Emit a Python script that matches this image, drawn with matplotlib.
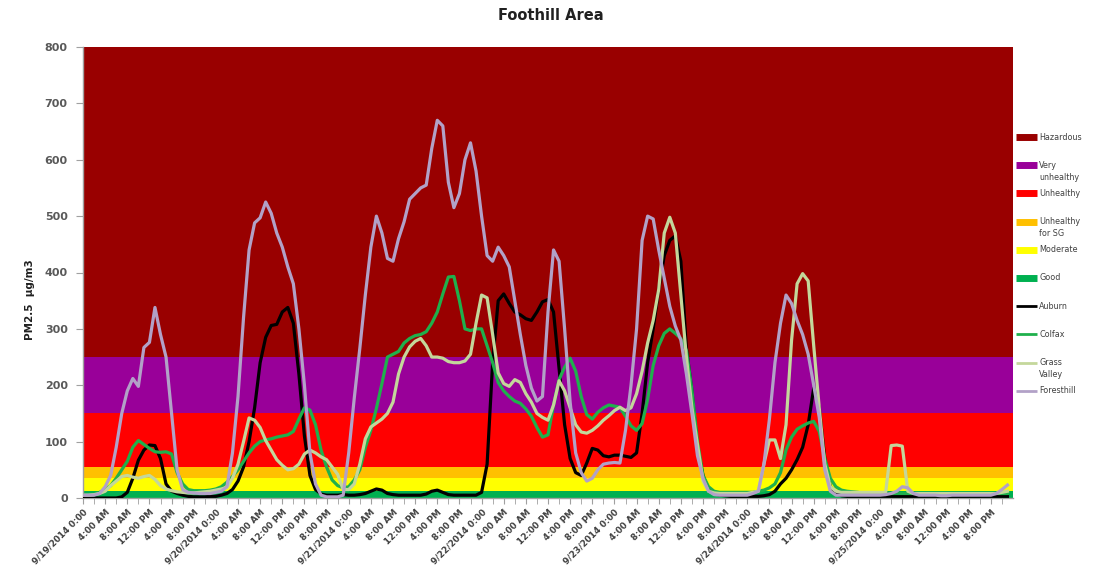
import matplotlib
matplotlib.use("Agg")
import matplotlib.pyplot as plt
from matplotlib.lines import Line2D
import numpy as np

# ---------------- data (hourly, 9/19/2014 0:00 .. 9/25/2014 23:00) ----------------
auburn = [0,0,0,0,0,0,0,2,10,35, 67,85,94,93,70,25,12,8,5,3,
          2,2,2,3,3,5,8,15,30,55, 100,160,240,285,306,308,330,338,310,220,
          110,40,15,7,5,5,5,6,5,5, 6,8,12,16,14,8,6,5,5,5,
          5,5,7,12,14,10,6,5,5,5, 5,5,10,60,240,350,362,345,330,325,
          318,315,330,348,352,330,230,130,70,45, 40,62,88,85,75,73,76,76,74,72,
          80,150,240,300,370,430,457,465,420,265, 190,90,40,15,8,5,4,3,3,3,
          3,3,3,4,6,12,25,35,50,68, 90,130,195,160,70,20,8,4,3,3,
          3,3,3,3,3,3,3,3,3,3, 3,3,3,3,3,3,3,3,3,3,
          3,3,3,3,3,3,3,3]
colfax = [5,5,6,10,15,22,35,50,65,90, 102,95,88,82,81,82,78,45,25,15,
          13,13,13,14,16,20,28,38,50,65, 80,92,100,103,105,108,110,112,118,140,
          160,156,130,85,55,32,22,18,20,32, 50,90,120,159,203,250,255,260,275,283,
          288,290,295,310,330,362,392,393,350,300, 297,300,300,270,240,205,190,180,172,168,
          158,145,125,108,112,165,210,232,248,225, 180,148,140,152,160,165,163,161,145,128,
          120,132,175,235,270,292,300,292,283,262, 191,100,40,20,12,10,10,10,10,10,
          10,10,12,14,18,25,45,85,108,122, 128,133,136,118,70,35,20,14,12,11,
          10,8,8,8,8,8,8,8,8,8, 8,8,8,8,8,8,8,8,8,8,
          8,8,8,8,8,8,8,8]
grass_valley = [5,5,6,8,12,22,30,38,40,37, 35,38,40,33,22,16,13,11,10,9,
          9,10,11,12,14,16,19,35,60,100, 142,138,125,102,85,68,58,50,52,60,
          78,85,80,73,68,55,42,15,15,25, 60,105,126,133,140,150,170,220,250,268,
          278,283,270,250,250,248,242,240,240,243, 255,310,360,355,290,222,203,198,210,205,
          185,170,150,143,138,165,208,190,160,130, 117,115,120,128,138,146,155,161,155,160,
          185,225,275,315,370,470,498,470,360,250, 160,95,30,12,9,8,8,8,8,8,
          8,10,12,60,103,103,70,130,280,380, 398,385,270,160,60,20,12,10,10,10,
          10,10,10,10,10,10,93,94,92,12, 8,8,8,8,8,8,8,8,8,8,
          8,8,8,8,8,8,10,12]
foresthill = [5,5,5,8,20,40,90,150,190,212, 198,267,276,338,290,250,150,50,15,10,
          9,8,8,8,10,12,20,80,180,320, 440,488,497,525,505,470,445,410,380,300,
          200,80,25,5,2,2,2,5,80,177, 265,360,445,500,470,425,420,460,490,530,
          540,550,555,620,670,660,560,515,540,600, 630,580,500,430,420,445,430,410,350,290,
          235,195,172,180,330,440,420,300,170,80, 45,30,35,50,60,62,63,62,120,200,
          300,457,500,495,440,390,340,305,280,220, 150,75,35,12,6,5,5,5,5,5,
          5,8,12,60,140,240,310,360,345,315, 290,255,200,143,50,12,5,5,5,5,
          5,5,5,5,5,6,8,12,20,18, 8,5,5,5,5,4,4,5,5,5,
          5,5,5,5,5,8,15,23]

series_names = ["Auburn", "Colfax", "Grass\nValley", "Foresthill"]
series_colors = ["#000000", "#1fb04c", "#c4d79b", "#b2a1c7"]

band_names = ["Hazardous", "Very\nunhealthy", "Unhealthy", "Unhealthy\nfor SG", "Moderate", "Good"]
band_lo = [250.4, 150.4, 55.4, 35.4, 12.0, 0.0]
band_hi = [800.0, 250.4, 150.4, 55.4, 35.4, 12.0]
band_colors = ["#990000", "#990099", "#ff0000", "#ffc000", "#ffff00", "#00b050"]

days = ["9/19/2014", "9/20/2014", "9/21/2014", "9/22/2014", "9/23/2014", "9/24/2014", "9/25/2014"]
hour_labels = ["0:00", "4:00 AM", "8:00 AM", "12:00 PM", "4:00 PM", "8:00 PM"]
tick_labels = []
for d in days:
    for h in hour_labels:
        tick_labels.append(d + " " + h if h == "0:00" else h)

# ---------------- figure ----------------
W, H = 1102, 575
fig = plt.figure(figsize=(W / 100, H / 100), dpi=100)
L, R, T, B = 83, 1013, 47, 498
ax = fig.add_axes([L / W, 1 - B / H, (R - L) / W, (B - T) / H])

for lo, hi, c in zip(band_lo, band_hi, band_colors):
    ax.axhspan(lo, hi, color=c, lw=0, zorder=0)

hours = np.arange(len(auburn))
all_series = [auburn, colfax, grass_valley, foresthill]
for vals, c in zip(all_series, series_colors):
    ax.plot(hours, vals, color=c, lw=2.3, solid_joinstyle="round", zorder=3)

ax.set_xlim(0, 168)
ax.set_ylim(0, 800)

tick_color = "#404040"
ax.set_xticks(np.arange(0, 168, 4))
ax.set_xticks(np.arange(0, 168, 2), minor=True)
ax.set_xticklabels(tick_labels, rotation=45, ha="right", rotation_mode="anchor",
                   fontsize=6.3, fontweight="bold", color=tick_color, family="DejaVu Sans")
ax.set_yticks(np.arange(0, 801, 100))
ax.set_yticklabels([str(v) for v in range(0, 801, 100)], fontsize=8, fontweight="bold",
                   color="#595959")
ax.tick_params(axis="x", which="both", length=4, color="#a0a0a0", pad=3)
ax.tick_params(axis="y", length=5, color="#a0a0a0", pad=6)
for s in ["top", "right"]:
    ax.spines[s].set_visible(False)
for s in ["left", "bottom"]:
    ax.spines[s].set_color("#a0a0a0")
    ax.spines[s].set_linewidth(1.0)

ax.set_ylabel("PM2.5  µg/m3", fontsize=7.5, fontweight="bold", color="#202020")
ax.yaxis.set_label_coords(-0.052, 0.44)

fig.text(0.5, 1 - 16 / H, "Foothill Area", ha="center", va="center",
         fontsize=10.5, fontweight="bold", color="#202020")

# ---------------- legend (manual, Excel-like fixed spacing) ----------------
leg_labels = band_names + series_names
leg_colors = band_colors + series_colors
leg_widths = [5] * len(band_names) + [2] * len(series_names)
y0, dy = 137, 28.2
for i, (lab, c, lw) in enumerate(zip(leg_labels, leg_colors, leg_widths)):
    yp = y0 + i * dy
    yf = 1 - yp / H
    fig.add_artist(Line2D([1016 / W, 1037 / W], [yf, yf], color=c, lw=lw,
                          transform=fig.transFigure, solid_capstyle="butt"))
    fig.text(1039 / W, 1 - (yp - 4.5) / H, lab, ha="left", va="top", fontsize=5.8,
             color="#404040", linespacing=1.45)

fig.savefig("out.png", dpi=100)
